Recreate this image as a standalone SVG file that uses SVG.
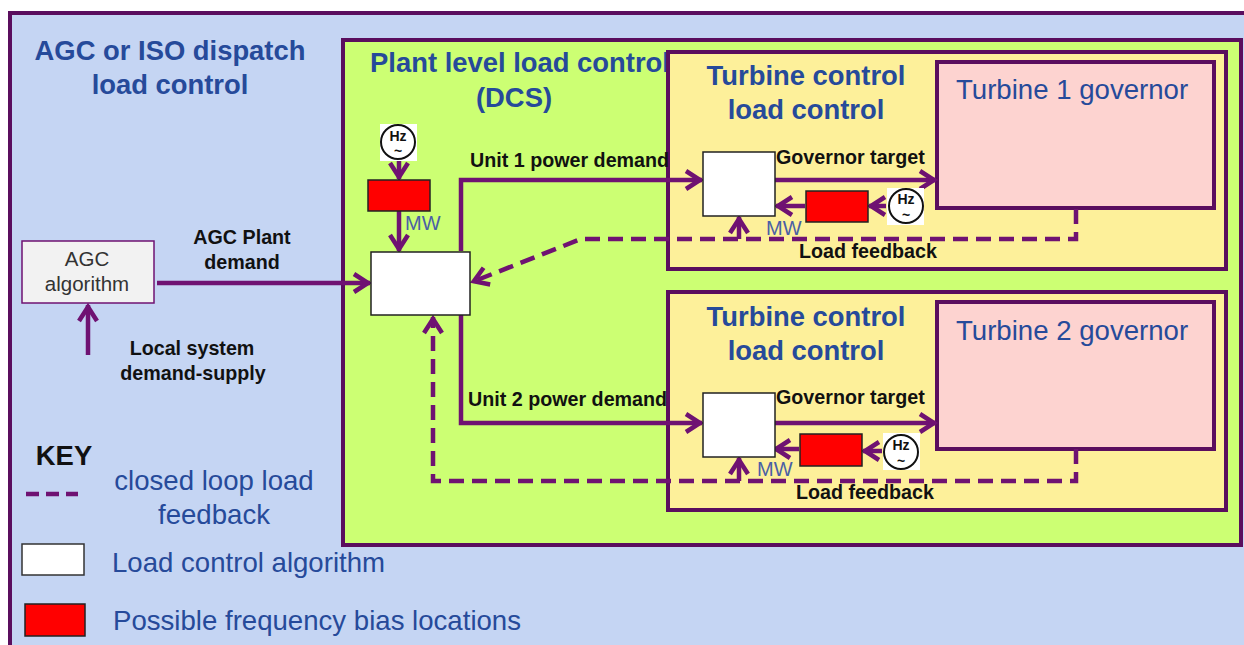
<svg xmlns="http://www.w3.org/2000/svg" width="1244" height="645" viewBox="0 0 1244 645">
<style>
text{font-family:"Liberation Sans",Arial,sans-serif}
.h{fill:#264a9a;font-weight:bold;font-size:27.4px;text-anchor:middle}
.t{fill:#264a9a;font-size:27.6px}
.b{fill:#111;font-weight:bold;font-size:19.7px}
.m{fill:#4a5fa5;font-size:20px}
.box{stroke:#5a0e5e;stroke-width:4}
.alg{fill:#fff;stroke:#222;stroke-width:1.5}
.red{fill:#f00;stroke:#222;stroke-width:1.5}
.ln{fill:none;stroke:#6f1272;stroke-width:4.5}
.ar{marker-end:url(#a)}
.d{stroke-dasharray:15 8}
.hz{fill:#fff;stroke:#111;stroke-width:2}
.hzt{fill:#111;font-weight:bold;font-size:14px;text-anchor:middle}
</style>
<defs>
<marker id="a" markerUnits="userSpaceOnUse" markerWidth="30" markerHeight="30" refX="25" refY="15" orient="auto" viewBox="0 0 30 30"><path d="M9 6L23 15L9 24" fill="none" stroke="#6f1272" stroke-width="4.5"/></marker>
</defs>
<rect width="1244" height="645" fill="#fff"/>
<g id="outer"><rect x="10" y="13" width="1240" height="650" fill="#c5d5f3" class="box"/>
<text class="h" x="170" y="60">AGC or ISO dispatch</text><text class="h" x="170" y="94">load control</text></g>
<g id="plant"><rect x="343" y="40" width="898" height="505" fill="#ccff73" class="box"/>
<text class="h" x="520" y="72">Plant level load control</text><text class="h" x="514" y="107">(DCS)</text></g>
<g id="turbine1"><rect x="668" y="52" width="558" height="217" fill="#fdf09a" class="box"/>
<text class="h" x="806" y="85">Turbine control</text><text class="h" x="806" y="119">load control</text></g>
<g id="turbine2"><rect x="668" y="292" width="558" height="218" fill="#fdf09a" class="box"/>
<text class="h" x="806" y="326">Turbine control</text><text class="h" x="806" y="360">load control</text></g>
<g id="gov1"><rect x="937" y="62" width="277" height="146" fill="#fdd3d0" class="box"/><text class="t" x="956" y="99">Turbine 1 governor</text></g>
<g id="gov2"><rect x="937" y="302" width="277" height="147" fill="#fdd3d0" class="box"/><text class="t" x="956" y="340">Turbine 2 governor</text></g>
<g id="connectors">
<path class="ln ar" d="M157 283H370"/>
<path class="ln ar" d="M88 355V305"/>
<path class="ln ar" d="M399 160V179"/>
<path class="ln ar" d="M399 211V251"/>
<path class="ln ar" d="M461 251V180H702"/>
<path class="ln ar" d="M461 315V423H702"/>
<path class="ln ar" d="M775 180H936"/>
<path class="ln ar" d="M775 423H936"/>
<path class="ln ar" d="M805 206H776"/>
<path class="ln ar" d="M886 206H869"/>
<path class="ln ar" d="M799 449H774"/>
<path class="ln ar" d="M882 451H863"/>
<path class="ln ar" d="M739 239V217"/>
<path class="ln ar" d="M739 481V458"/>
<path class="ln ar d" d="M1076 209V239H581L472 282"/>
<path class="ln ar d" d="M1076 449V481H433V317"/>
<path class="ln" stroke-dasharray="13 7" d="M26 494H78"/>
</g>
<g id="agc"><rect x="22" y="241" width="132" height="62" fill="#f2f2f2" stroke="#6f1272" stroke-width="1.5"/>
<text x="87" y="266" font-size="20.5" fill="#333" text-anchor="middle">AGC</text><text x="87" y="291" font-size="20.5" fill="#333" text-anchor="middle">algorithm</text></g>
<g id="plant-algorithm"><rect class="alg" x="371" y="252" width="99" height="63"/></g>
<g id="unit1-algorithm"><rect class="alg" x="703" y="152" width="72" height="64"/></g>
<g id="unit2-algorithm"><rect class="alg" x="703" y="393" width="72" height="64"/></g>
<g id="bias-plant"><rect class="red" x="368" y="180" width="62" height="31"/></g>
<g id="bias-1"><rect class="red" x="806" y="191" width="62" height="31"/></g>
<g id="bias-2"><rect class="red" x="800" y="434" width="62" height="32"/></g>
<g id="hz-plant"><rect x="380" y="124" width="37" height="37" fill="#fff"/><circle class="hz" cx="398" cy="142" r="17"/><text class="hzt" x="398" y="141">Hz</text><text class="hzt" x="398" y="156">~</text></g>
<g id="hz-1"><rect x="887" y="188" width="37" height="37" fill="#fff"/><circle class="hz" cx="906" cy="206" r="17"/><text class="hzt" x="906" y="204">Hz</text><text class="hzt" x="906" y="220">~</text></g>
<g id="hz-2"><rect x="883" y="433" width="37" height="37" fill="#fff"/><circle class="hz" cx="901" cy="452" r="17"/><text class="hzt" x="901" y="450">Hz</text><text class="hzt" x="901" y="466">~</text></g>
<g id="labels">
<text class="b" x="242" y="244" text-anchor="middle">AGC Plant</text><text class="b" x="242" y="269" text-anchor="middle">demand</text>
<text class="b" x="192" y="355" text-anchor="middle">Local system</text><text class="b" x="193" y="380" text-anchor="middle">demand-supply</text>
<text class="b" x="470" y="167">Unit 1 power demand</text><text class="b" x="468" y="406">Unit 2 power demand</text>
<text class="b" x="776" y="164">Governor target</text><text class="b" x="776" y="404">Governor target</text>
<text class="b" x="799" y="258">Load feedback</text><text class="b" x="796" y="499">Load feedback</text>
<text class="m" x="405" y="230">MW</text><text class="m" x="766" y="235">MW</text><text class="m" x="757" y="476">MW</text>
</g>
<g id="key">
<text x="64" y="465" font-size="27.4" font-weight="bold" fill="#111" text-anchor="middle">KEY</text>
<text class="t" x="214" y="490" text-anchor="middle">closed loop load</text><text class="t" x="214" y="524" text-anchor="middle">feedback</text>
<rect x="22" y="544" width="62" height="31" fill="#fff" stroke="#333" stroke-width="1.5"/><text class="t" x="112" y="572">Load control algorithm</text>
<rect class="red" x="25" y="604" width="60" height="32"/><text class="t" x="113" y="630">Possible frequency bias locations</text>
</g>
</svg>
